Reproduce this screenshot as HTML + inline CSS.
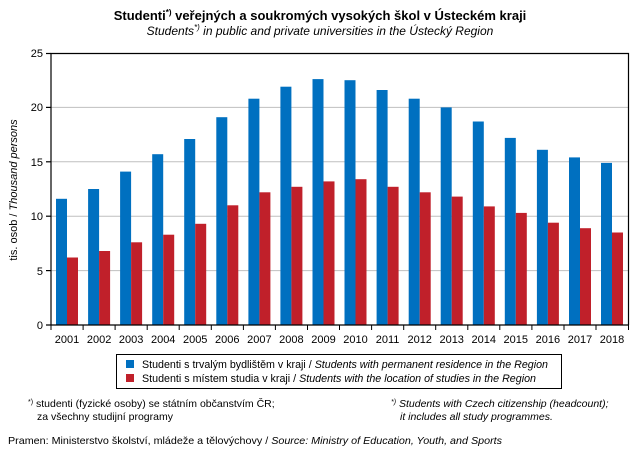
<!DOCTYPE html>
<html><head><meta charset="utf-8"><style>
html,body{margin:0;padding:0;background:#fff}
svg{display:block;font-family:"Liberation Sans",Arial,sans-serif}
</style></head><body>
<svg width="641" height="466" viewBox="0 0 641 466" xmlns="http://www.w3.org/2000/svg">
<text x="320" y="20" text-anchor="middle" font-size="13" font-weight="bold">Studenti<tspan font-size="8" dy="-5">*)</tspan><tspan dy="5"> veřejných a soukromých  vysokých  škol v Ústeckém kraji</tspan></text>
<text x="320" y="35" text-anchor="middle" font-size="12" font-style="italic">Students<tspan font-size="8" dy="-5">*)</tspan><tspan dy="5"> in public and private  universities  in the Ústecký Region</tspan></text>
<g stroke="#bfbfbf" stroke-width="1">
<line x1="51" y1="270.6" x2="628" y2="270.6"/><line x1="51" y1="216.2" x2="628" y2="216.2"/><line x1="51" y1="161.8" x2="628" y2="161.8"/><line x1="51" y1="107.4" x2="628" y2="107.4"/>
</g>
<g fill="#0070c0">
<rect x="56" y="198.8" width="11" height="126.2"/><rect x="88.1" y="189" width="11" height="136"/><rect x="120.1" y="171.6" width="11" height="153.4"/><rect x="152.2" y="154.2" width="11" height="170.8"/><rect x="184.2" y="139" width="11" height="186"/><rect x="216.3" y="117.2" width="11" height="207.8"/><rect x="248.4" y="98.7" width="11" height="226.3"/><rect x="280.4" y="86.7" width="11" height="238.3"/><rect x="312.5" y="79.1" width="11" height="245.9"/><rect x="344.5" y="80.2" width="11" height="244.8"/><rect x="376.6" y="90" width="11" height="235"/><rect x="408.7" y="98.7" width="11" height="226.3"/><rect x="440.7" y="107.4" width="11" height="217.6"/><rect x="472.8" y="121.5" width="11" height="203.5"/><rect x="504.8" y="137.9" width="11" height="187.1"/><rect x="536.9" y="149.8" width="11" height="175.2"/><rect x="569" y="157.4" width="11" height="167.6"/><rect x="601" y="162.9" width="11" height="162.1"/>
</g>
<g fill="#c0202a">
<rect x="67" y="257.5" width="11" height="67.5"/><rect x="99.1" y="251" width="11" height="74"/><rect x="131.1" y="242.3" width="11" height="82.7"/><rect x="163.2" y="234.7" width="11" height="90.3"/><rect x="195.2" y="223.8" width="11" height="101.2"/><rect x="227.3" y="205.3" width="11" height="119.7"/><rect x="259.4" y="192.3" width="11" height="132.7"/><rect x="291.4" y="186.8" width="11" height="138.2"/><rect x="323.5" y="181.4" width="11" height="143.6"/><rect x="355.5" y="179.2" width="11" height="145.8"/><rect x="387.6" y="186.8" width="11" height="138.2"/><rect x="419.7" y="192.3" width="11" height="132.7"/><rect x="451.7" y="196.6" width="11" height="128.4"/><rect x="483.8" y="206.4" width="11" height="118.6"/><rect x="515.8" y="212.9" width="11" height="112.1"/><rect x="547.9" y="222.7" width="11" height="102.3"/><rect x="580" y="228.2" width="11" height="96.8"/><rect x="612" y="232.5" width="11" height="92.5"/>
</g>
<g stroke="#000" stroke-width="1.2" fill="none">
<polyline points="51,325 51,53.5 628.5,53.5 628.5,325"/>
<line x1="46" y1="325" x2="628.5" y2="325"/>
<line x1="46" y1="53.5" x2="51" y2="53.5"/><line x1="46" y1="107.4" x2="51" y2="107.4"/><line x1="46" y1="161.8" x2="51" y2="161.8"/><line x1="46" y1="216.2" x2="51" y2="216.2"/><line x1="46" y1="270.6" x2="51" y2="270.6"/>
</g>
<g stroke="#000" stroke-width="1">
<line x1="51" y1="325" x2="51" y2="330"/><line x1="83.1" y1="325" x2="83.1" y2="330"/><line x1="115.1" y1="325" x2="115.1" y2="330"/><line x1="147.2" y1="325" x2="147.2" y2="330"/><line x1="179.2" y1="325" x2="179.2" y2="330"/><line x1="211.3" y1="325" x2="211.3" y2="330"/><line x1="243.4" y1="325" x2="243.4" y2="330"/><line x1="275.4" y1="325" x2="275.4" y2="330"/><line x1="307.5" y1="325" x2="307.5" y2="330"/><line x1="339.5" y1="325" x2="339.5" y2="330"/><line x1="371.6" y1="325" x2="371.6" y2="330"/><line x1="403.7" y1="325" x2="403.7" y2="330"/><line x1="435.7" y1="325" x2="435.7" y2="330"/><line x1="467.8" y1="325" x2="467.8" y2="330"/><line x1="499.8" y1="325" x2="499.8" y2="330"/><line x1="531.9" y1="325" x2="531.9" y2="330"/><line x1="564" y1="325" x2="564" y2="330"/><line x1="596" y1="325" x2="596" y2="330"/><line x1="628.5" y1="325" x2="628.5" y2="330"/>
</g>
<g font-size="11" text-anchor="end">
<text x="43" y="329">0</text><text x="43" y="275">5</text><text x="43" y="220">10</text><text x="43" y="166">15</text><text x="43" y="111">20</text><text x="43" y="57">25</text>
</g>
<text transform="translate(17,190) rotate(-90)" text-anchor="middle" font-size="11">tis. osob / <tspan font-style="italic">Thousand persons</tspan></text>
<g font-size="11" text-anchor="middle">
<text x="67" y="343">2001</text><text x="99.1" y="343">2002</text><text x="131.1" y="343">2003</text><text x="163.2" y="343">2004</text><text x="195.2" y="343">2005</text><text x="227.3" y="343">2006</text><text x="259.4" y="343">2007</text><text x="291.4" y="343">2008</text><text x="323.5" y="343">2009</text><text x="355.5" y="343">2010</text><text x="387.6" y="343">2011</text><text x="419.7" y="343">2012</text><text x="451.7" y="343">2013</text><text x="483.8" y="343">2014</text><text x="515.8" y="343">2015</text><text x="547.9" y="343">2016</text><text x="580" y="343">2017</text><text x="612" y="343">2018</text>
</g>
<rect x="116.5" y="354.5" width="445" height="34" fill="none" stroke="#000" stroke-width="1"/>
<rect x="126" y="360" width="8" height="8" fill="#0070c0"/>
<rect x="126" y="374" width="8" height="8" fill="#c0202a"/>
<g font-size="11">
<text x="142" y="368" textLength="406" lengthAdjust="spacingAndGlyphs">Studenti s trvalým bydlištěm v kraji / <tspan font-style="italic">Students with permanent residence in the Region</tspan></text>
<text x="142" y="382" textLength="394" lengthAdjust="spacingAndGlyphs">Studenti s místem studia v kraji / <tspan font-style="italic">Students with the location of studies in the Region</tspan></text>
</g>
<g font-size="10.5">
<text x="28" y="407"><tspan font-size="7" dy="-3">*)</tspan><tspan dy="3"> studenti (fyzické osoby) se státním občanstvím ČR;</tspan></text>
<text x="37" y="420">za všechny studijní programy</text>
<text x="391" y="407" font-style="italic"><tspan font-size="7" dy="-3">*)</tspan><tspan dy="3"> Students with Czech citizenship (headcount);</tspan></text>
<text x="400" y="420" font-style="italic">it includes all study programmes.</text>
<text x="8" y="444" textLength="494" lengthAdjust="spacingAndGlyphs">Pramen:  Ministerstvo školství, mládeže a tělovýchovy / <tspan font-style="italic">Source: Ministry of Education, Youth, and Sports</tspan></text>
</g>
</svg>
</body></html>
